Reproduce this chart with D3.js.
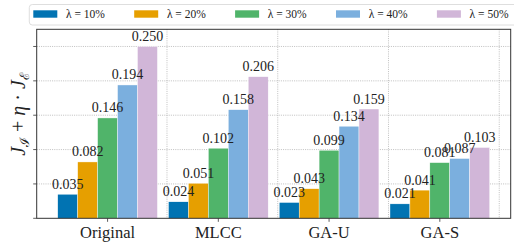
<!DOCTYPE html>
<html>
<head>
<meta charset="utf-8">
<script src="https://cdn.jsdelivr.net/npm/d3@7"></script>
<style>
  html, body { margin: 0; padding: 0; background: #fff; }
  svg { display: block; }
  svg text { font-family: "Liberation Serif", "DejaVu Serif", serif; }
</style>
</head>
<body>
<div id="chart"></div>
<script>
const methods = ["Original", "MLCC", "GA-U", "GA-S"];
const lambdas = ["10%", "20%", "30%", "40%", "50%"];
const colors = ["#0173b2", "#e69f00", "#50b46a", "#7bafde", "#d1b6d8"];
// one row per method, one value per lambda
const values = [
  [0.035, 0.082, 0.146, 0.194, 0.250],
  [0.024, 0.051, 0.102, 0.158, 0.206],
  [0.023, 0.043, 0.099, 0.134, 0.159],
  [0.021, 0.041, 0.081, 0.087, 0.103],
];
const yTicks = [0, 0.05, 0.1, 0.15, 0.2, 0.25];

const width = 514, height = 242;
const m = { left: 36.7, right: 510.7, top: 29.3, bottom: 218.3 };
const barW = 0.18;

const svg = d3.select("#chart").append("svg")
  .attr("width", width).attr("height", height)
  .attr("viewBox", `0 0 ${width} ${height}`);

const x = d3.scaleLinear().domain([-0.64, 3.64]).range([m.left, m.right]);
const y = d3.scaleLinear().domain([0, 0.275]).range([m.bottom, m.top]);

// grid
svg.append("g").selectAll("line")
  .data(yTicks.slice(1))
  .join("line")
  .attr("x1", m.left).attr("x2", m.right)
  .attr("y1", (d) => y(d)).attr("y2", (d) => y(d))
  .attr("stroke", "#b0b0b0").attr("stroke-width", 0.8)
  .attr("stroke-dasharray", "1,1.2");

svg.append("g").selectAll("line")
  .data(methods.map((_, i) => i + 0.5365))
  .join("line")
  .attr("x1", (d) => x(d)).attr("x2", (d) => x(d))
  .attr("y1", m.top).attr("y2", m.bottom)
  .attr("stroke", "#b0b0b0").attr("stroke-width", 0.8)
  .attr("stroke-dasharray", "1,1.2");

// bars
const groups = svg.append("g").selectAll("g")
  .data(values)
  .join("g");

groups.selectAll("rect")
  .data((row, i) => row.map((v, k) => ({ v, k, i })))
  .join("rect")
  .attr("x", (d) => x(d.i + (d.k - 2.5) * barW))
  .attr("width", (d) => x(barW) - x(0))
  .attr("y", (d) => y(d.v))
  .attr("height", (d) => y(0) - y(d.v))
  .attr("fill", (d) => colors[d.k])
  .attr("stroke", "#fff")
  .attr("stroke-width", 0.4);

groups.selectAll("text")
  .data((row, i) => row.map((v, k) => ({ v, k, i })))
  .join("text")
  .attr("x", (d) => x(d.i + (d.k - 2) * barW))
  .attr("y", (d) => y(d.v) - 5.5)
  .attr("text-anchor", "middle")
  .attr("font-size", 14)
  .attr("fill", "#222")
  .text((d) => d3.format(".3f")(d.v));

// spines
svg.append("rect")
  .attr("x", m.left).attr("y", m.top)
  .attr("width", m.right - m.left).attr("height", m.bottom - m.top)
  .attr("fill", "none").attr("stroke", "#333").attr("stroke-width", 1);

// y ticks (no labels)
svg.append("g").selectAll("line")
  .data(yTicks)
  .join("line")
  .attr("x1", m.left - 3.5).attr("x2", m.left)
  .attr("y1", (d) => y(d)).attr("y2", (d) => y(d))
  .attr("stroke", "#333").attr("stroke-width", 0.8);

// x ticks and labels
svg.append("g").selectAll("line")
  .data(methods)
  .join("line")
  .attr("x1", (d, i) => x(i)).attr("x2", (d, i) => x(i))
  .attr("y1", m.bottom).attr("y2", m.bottom + 3.5)
  .attr("stroke", "#333").attr("stroke-width", 0.8);

svg.append("g").selectAll("text")
  .data(methods)
  .join("text")
  .attr("x", (d, i) => x(i))
  .attr("y", 237.5)
  .attr("text-anchor", "middle")
  .attr("font-size", 16.5)
  .attr("fill", "#222")
  .text((d) => d);

// y label
const yl = svg.append("text")
  .attr("transform", "translate(25,114) rotate(-90)")
  .attr("text-anchor", "middle")
  .attr("font-size", 20)
  .attr("fill", "#222");
yl.append("tspan").attr("font-style", "italic").text("J");
yl.append("tspan").attr("font-size", 13).attr("dy", 4).text("ℐ");
yl.append("tspan").attr("dy", -4).text(" + ");
yl.append("tspan").attr("font-style", "italic").text("η");
yl.append("tspan").text(" · ");
yl.append("tspan").attr("font-style", "italic").text("J");
yl.append("tspan").attr("font-size", 13).attr("dy", 4).text("ℰ");

// legend
const legend = svg.append("g");
legend.append("rect")
  .attr("x", 29.3).attr("y", 4.5)
  .attr("width", 490).attr("height", 20.5)
  .attr("rx", 3)
  .attr("fill", "#fff").attr("stroke", "#d6d6d6").attr("stroke-width", 0.8);

const entries = legend.selectAll("g")
  .data(lambdas)
  .join("g")
  .attr("transform", (d, k) => `translate(${33.3 + k * 100.9},0)`);

entries.append("rect")
  .attr("x", 0).attr("y", 10.3)
  .attr("width", 24).attr("height", 7.4)
  .attr("fill", (d, k) => colors[k]);

entries.append("text")
  .attr("x", 32.7).attr("y", 18.3)
  .attr("font-size", 11.5)
  .attr("fill", "#222")
  .text((d) => `λ = ${d}`);
</script>
</body>
</html>
